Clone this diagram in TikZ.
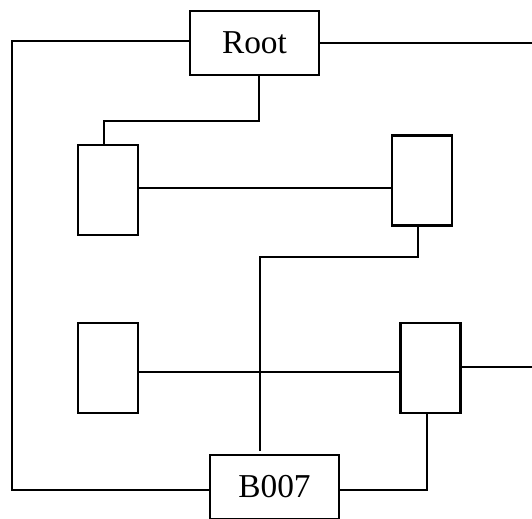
\documentclass[tikz,border=0pt]{standalone}
\usepackage{fontspec}
\setmainfont{Liberation Serif}
\usepackage{tikz}
\usetikzlibrary{positioning, calc}

\begin{document}
\begin{tikzpicture}[x=0.02cm, y=-0.02cm, line width=1.3pt,
  font=\fontsize{19}{22}\selectfont,
  B/.style={rectangle, draw, fill=white, minimum width=1.2cm, minimum height=1.8cm, inner sep=0pt},
  T/.style={rectangle, draw, fill=white, minimum width=2.58cm, minimum height=1.28cm, inner sep=0pt}]
\useasboundingbox (0,0) rectangle (532,519);
% boxes
\node[T] (root) at (254.5,43) {Root};
\node[B] (a) at (108,190) {};
\node[B] (b) at (422,180.5) {};
\node[B] (c) at (108,368) {};
\node[B] (d) at (430.5,368) {};
\node[T] (b007) at (274.5,487) {B007};
% free ends and bends
\coordinate (left) at (12,41);
\coordinate (rr) at (532,44);
\coordinate (j1) at (259,121);
\coordinate (j2) at (260,257);
\draw ($(root.west)+(0,-2)$) -| (left) |- ($(b007.west)+(0,3)$);
\draw (root.east) -- (root.east -| rr);
\draw (j1 |- root.south) -- (j1) -| ($(a.north)+(-4,0)$);
\draw ($(a.east)+(0,-2)$) -- ($(a.east -| b.west)+(0,-2)$);
\draw ($(b.south)+(-4,0)$) |- (j2) -- ($(j2 |- b007.north)+(0,-3)$);
\draw ($(c.east)+(0,4)$) -- ($(c.east -| d.west)+(0,4)$);
\draw ($(d.east)+(0,-1)$) -- ($(d.east -| rr)+(0,-1)$);
\draw ($(d.south)+(-3.5,0)$) |- ($(b007.east)+(0,3)$);
\end{tikzpicture}
\end{document}
